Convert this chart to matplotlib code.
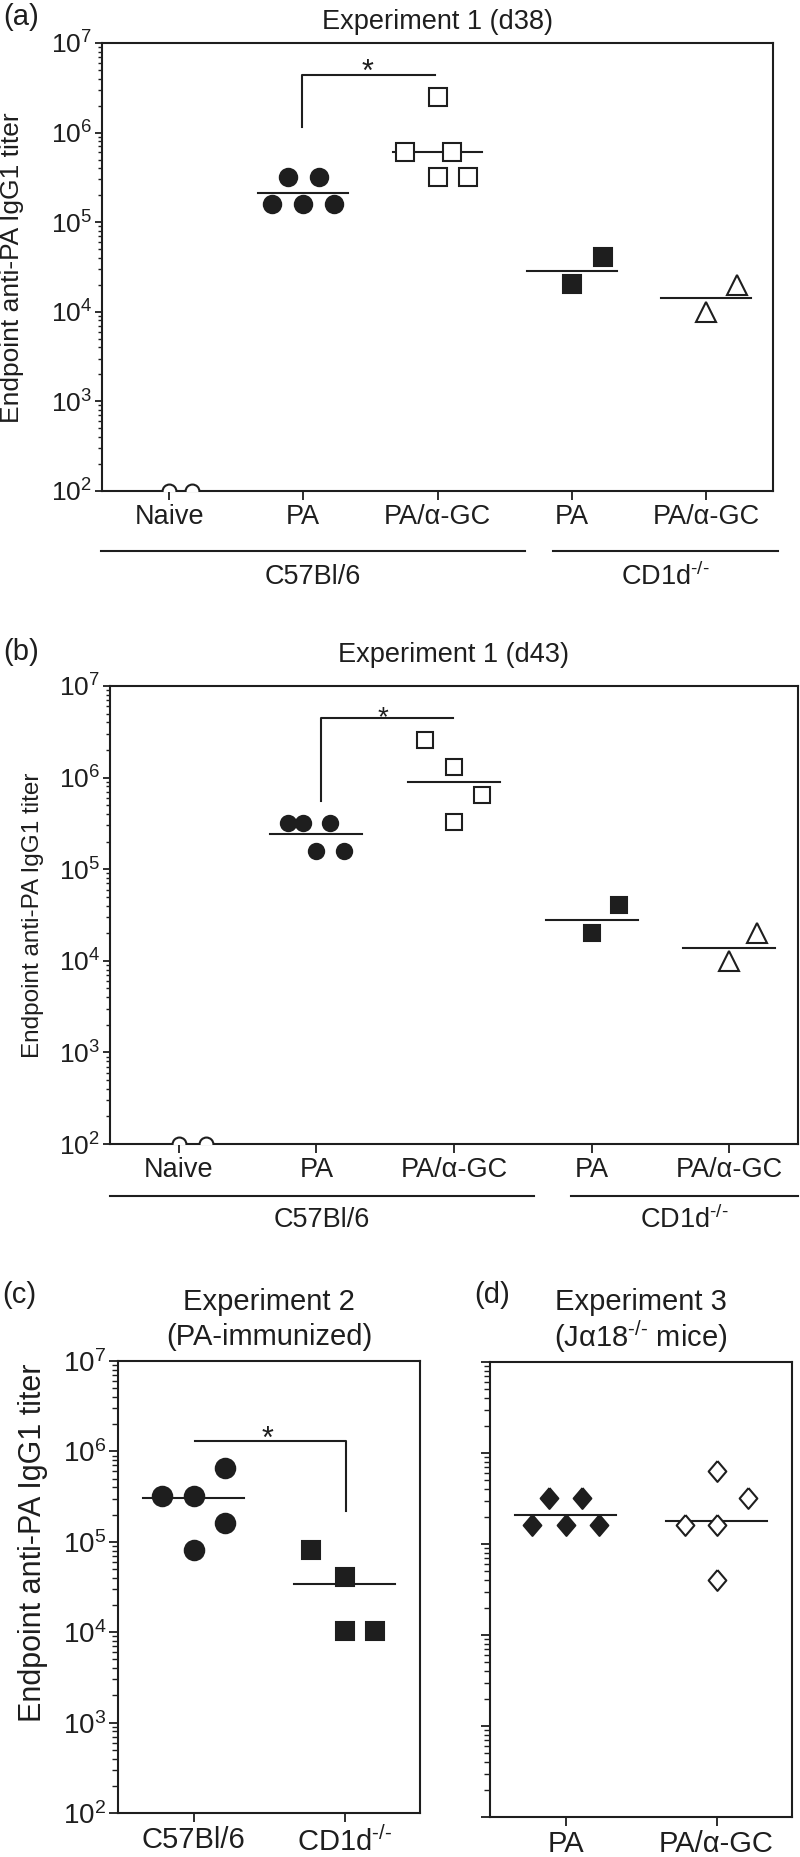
import numpy as np
import matplotlib
matplotlib.use('Agg')
import matplotlib.pyplot as plt
from matplotlib.ticker import LogLocator, NullFormatter, FuncFormatter

plt.rcParams['font.family'] = ['Liberation Sans', 'DejaVu Sans']
plt.rcParams['mathtext.fontset'] = 'custom'
plt.rcParams['mathtext.rm'] = 'Liberation Sans'
plt.rcParams['mathtext.it'] = 'Liberation Sans:italic'
plt.rcParams['mathtext.bf'] = 'Liberation Sans:bold'
plt.rcParams['mathtext.default'] = 'regular'

INK = '#1e1e1e'
W, H = 800, 1857
YLAB = 'Endpoint anti-PA IgG1 titer'
KO = r'$^{\text{-/-}}$'

# --- data ---
# (a) Experiment 1 (d38)
a_labels = ['Naive', 'PA', 'PA/α-GC', 'PA', 'PA/α-GC']
a_naive = [1e2, 1e2]
a_pa = [1.6e5, 1.6e5, 1.6e5, 3.2e5, 3.2e5]
a_pagc = [2.5e6, 6.1e5, 6.1e5, 3.2e5, 3.2e5]
a_cd_pa = [4.1e4, 2.05e4]
a_cd_pagc = [2.0e4, 1.0e4]
a_means = [None, 2.12e5, 6.1e5, 2.85e4, 1.42e4]
a_jitter = [[0, 0.17], [-0.23, 0, 0.23, -0.115, 0.115],
            [0, -0.245, 0.11, 0, 0.23], [0.23, 0], [0.23, 0]]
a_sig = (1.15e6, 4.4e6)

# (b) Experiment 1 (d43)
b_labels = a_labels
b_naive = [1e2, 1e2]
b_pa = [3.2e5, 3.2e5, 3.2e5, 1.6e5, 1.6e5]
b_pagc = [2.6e6, 1.3e6, 6.5e5, 3.3e5]
b_cd_pa = [4.1e4, 2.0e4]
b_cd_pagc = [2.0e4, 1.0e4]
b_means = [None, 2.44e5, 9.0e5, 2.8e4, 1.39e4]
b_jitter = [[0, 0.2], [-0.21, -0.1, 0.1, 0, 0.2],
            [-0.21, 0, 0.2, 0], [0.2, 0], [0.2, 0]]
b_sig = (5.5e5, 4.5e6)

# (c) Experiment 2 (PA-immunized)
c_labels = ['C57Bl/6', 'CD1d' + KO]
c_b6 = [3.2e5, 3.2e5, 6.6e5, 1.6e5, 8.1e4]
c_cd = [8.1e4, 4.1e4, 1.02e4, 1.02e4]
c_means = [3.06e5, 3.45e4]
c_jitter = [[-0.21, 0, 0.207, 0.207, 0], [-0.22, 0, 0, 0.2]]
c_sig = (2.2e5, 1.32e6)

# (d) Experiment 3 (Ja18-/- mice)
d_labels = ['PA', 'PA/α-GC']
d_pa = [3.2e5, 3.2e5, 1.6e5, 1.6e5, 1.6e5]
d_pagc = [6.35e5, 3.2e5, 1.6e5, 1.6e5, 4.0e4]
d_means = [2.1e5, 1.81e5]
d_jitter = [[-0.11, 0.11, -0.22, 0, 0.22], [0, 0.21, -0.207, 0, 0]]

DIAMOND = [(0, 1), (0.85, 0), (0, -1), (-0.85, 0), (0, 1)]

fig = plt.figure(figsize=(W / 100, H / 100), dpi=100)


def add_ax(x0, y0, x1, y1):
    return fig.add_axes([x0 / W, 1 - y1 / H, (x1 - x0) / W, (y1 - y0) / H])


def ftext(x, y, s, **kw):
    fig.text(x / W, 1 - y / H, s, ha='center', va='center', color=INK, **kw)


def style_axis(ax, labels, fs, yfs, show_y=True, maj=5.0, mnr=3.0):
    n = len(labels)
    ax.set_yscale('log')
    ax.set_ylim(1e2, 1e7)
    ax.set_xlim(-0.5, n - 0.5)
    for s in ax.spines.values():
        s.set_linewidth(1.5)
        s.set_color(INK)
    ax.yaxis.set_major_locator(LogLocator(base=10, numticks=10))
    ax.yaxis.set_minor_locator(LogLocator(base=10, subs=np.arange(2, 10), numticks=10))
    ax.yaxis.set_minor_formatter(NullFormatter())
    ax.yaxis.set_major_formatter(FuncFormatter(lambda v, p: r'$10^{%d}$' % round(np.log10(v))))
    ax.tick_params(axis='y', which='major', direction='out', length=maj, width=1.3,
                   color=INK, labelsize=yfs, pad=2, labelleft=show_y, labelcolor=INK)
    ax.tick_params(axis='y', which='minor', direction='out', length=mnr, width=1.0, color=INK)
    ax.set_xticks(range(n))
    ax.set_xticklabels(labels)
    ax.tick_params(axis='x', direction='out', length=6.5, width=1.3, color=INK,
                   labelsize=fs, pad=3, labelcolor=INK)


def draw_group(ax, xi, vals, dx, marker, filled, ms, mean=None, half=0.335):
    x = xi + np.array(dx)
    ax.plot(x, vals, ls='none', marker=marker, ms=ms,
            mfc=INK if filled else 'white', mec=INK, mew=1.5, zorder=3)
    if mean is not None:
        ax.plot([xi - half, xi + half], [mean, mean], color=INK, lw=1.5, zorder=2)


def star(ax, x, y, fs, off):
    ax.annotate('*', (x, y), xytext=(0, off), textcoords='offset points',
                ha='center', va='baseline', fontsize=fs, color=INK)


def groups_below(ax, spans, names, yline, ytext, fs):
    tr = ax.get_xaxis_transform()
    for (x0, x1), nm in zip(spans, names):
        ax.plot([x0, x1], [yline, yline], color=INK, lw=1.5, transform=tr, clip_on=False)
        ax.text((x0 + x1) / 2, ytext, nm, transform=tr, ha='center', va='center',
                fontsize=fs, color=INK)


# ---------- (a) ----------
ax = add_ax(102, 43, 773, 491)
style_axis(ax, a_labels, 19.5, 19)
a_sets = [a_naive, a_pa, a_pagc, a_cd_pa, a_cd_pagc]
a_marks = [('o', False, 10), ('o', True, 12.5), ('s', False, 13), ('s', True, 12.5), ('^', False, 14)]
for i, (vals, (m, f, ms)) in enumerate(zip(a_sets, a_marks)):
    draw_group(ax, i, vals, a_jitter[i], m, f, ms, a_means[i])
ax.plot([0.99, 0.99, 1.98], [a_sig[0], a_sig[1], a_sig[1]], color=INK, lw=1.5)
star(ax, 1.48, a_sig[1], 22, -4.5)
groups_below(ax, [(-0.51, 2.65), (2.86, 4.54)], ['C57Bl/6', 'CD1d' + KO], -0.134, -0.192, 19.5)
ftext(437, 22, 'Experiment 1 (d38)', fontsize=19.5)
ftext(21, 17, '(a)', fontsize=21)
ftext(12, 268, YLAB, fontsize=19, rotation=90)

# ---------- (b) ----------
ax = add_ax(110, 686, 798, 1144)
style_axis(ax, b_labels, 19.5, 19)
b_sets = [b_naive, b_pa, b_pagc, b_cd_pa, b_cd_pagc]
b_marks = [('o', False, 10), ('o', True, 11), ('s', False, 11.5), ('s', True, 11), ('^', False, 14)]
for i, (vals, (m, f, ms)) in enumerate(zip(b_sets, b_marks)):
    draw_group(ax, i, vals, b_jitter[i], m, f, ms, b_means[i])
ax.plot([1.03, 1.03, 1.995], [b_sig[0], b_sig[1], b_sig[1]], color=INK, lw=1.5)
star(ax, 1.48, b_sig[1], 20, -5)
groups_below(ax, [(-0.5, 2.58), (2.85, 4.5)], ['C57Bl/6', 'CD1d' + KO], -0.1135, -0.166, 19.5)
ftext(454, 655, 'Experiment 1 (d43)', fontsize=19.5)
ftext(21, 652, '(b)', fontsize=21)
ftext(33, 915, YLAB, fontsize=17.5, rotation=90)

# ---------- (c) ----------
ax = add_ax(118, 1361, 420, 1813)
style_axis(ax, c_labels, 21, 20, maj=6.5, mnr=4.5)
draw_group(ax, 0, c_b6, c_jitter[0], 'o', True, 14, c_means[0])
draw_group(ax, 1, c_cd, c_jitter[1], 's', True, 13, c_means[1])
ax.plot([0.013, 1.007, 1.007], [c_sig[1], c_sig[1], c_sig[0]], color=INK, lw=1.5)
star(ax, 0.49, c_sig[1], 22, -5)
ftext(269, 1302, 'Experiment 2', fontsize=21)
ftext(269, 1337, '(PA-immunized)', fontsize=21)
ftext(19, 1295, '(c)', fontsize=21)
ftext(33, 1543, YLAB, fontsize=22, rotation=90)

# ---------- (d) ----------
ax = add_ax(490, 1362, 792, 1817)
style_axis(ax, d_labels, 21, 20, show_y=False, maj=6.5, mnr=4.5)
draw_group(ax, 0, d_pa, d_jitter[0], DIAMOND, True, 15, d_means[0])
draw_group(ax, 1, d_pagc, d_jitter[1], DIAMOND, False, 15, d_means[1])
ftext(641, 1302, 'Experiment 3', fontsize=21)
ftext(641, 1337, r'(J$\alpha$18' + KO + ' mice)', fontsize=21)
ftext(492, 1295, '(d)', fontsize=21)

fig.savefig('out.png', dpi=100)
